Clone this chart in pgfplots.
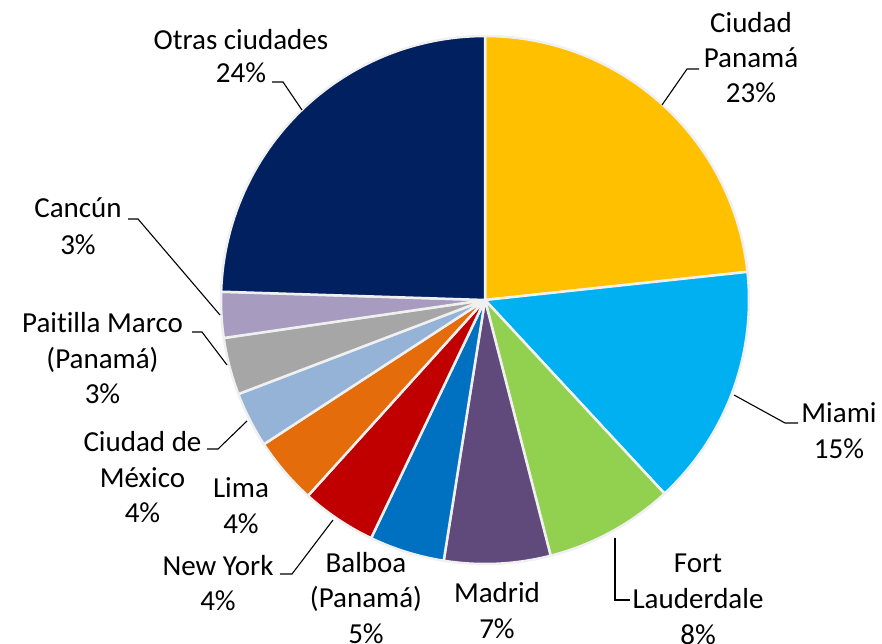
\documentclass[border=0pt]{standalone}
\usepackage{fontspec}
\setmainfont{Carlito}[Ligatures=NoCommon]
\usepackage{pgfplots}
\usepackage{pgfplotstable}
\pgfplotsset{compat=1.18}

\definecolor{cPanama}{HTML}{FFC000}
\definecolor{cMiami}{HTML}{00B0F0}
\definecolor{cFort}{HTML}{92D050}
\definecolor{cMadrid}{HTML}{604A7B}
\definecolor{cBalboa}{HTML}{0070C0}
\definecolor{cNY}{HTML}{C00000}
\definecolor{cLima}{HTML}{E46C0A}
\definecolor{cMexico}{HTML}{95B3D7}
\definecolor{cPaitilla}{HTML}{A6A6A6}
\definecolor{cCancun}{HTML}{A79BBF}
\definecolor{cOtras}{HTML}{002060}
\definecolor{pieedge}{HTML}{F0F0F0}

% share of each city (%), clockwise from 12 o'clock
\pgfplotstableread[col sep=comma]{
city,value,color
CiudadPanama,23.3,cPanama
Miami,14.8,cMiami
FortLauderdale,7.9,cFort
Madrid,6.5,cMadrid
Balboa,4.6,cBalboa
NewYork,4.6,cNY
Lima,4.1,cLima
CiudadMexico,3.4,cMexico
PaitillaMarco,3.5,cPaitilla
Cancun,2.8,cCancun
Otras,24.5,cOtras
}\piedata

\begin{document}
\begin{tikzpicture}[
  lbl/.style={anchor=base, inner sep=0pt, font=\fontsize{29}{35}\selectfont},
  lead/.style={black, line width=1.1pt}]
\begin{scope}
\clip (0,0) rectangle (882pt,644pt);
\begin{axis}[
  at={(0,0)}, anchor=south west,
  scale only axis, width=882pt, height=644pt,
  xmin=0, xmax=882, ymin=0, ymax=644, y dir=reverse,
  hide axis, clip=false,
]
\pgfmathsetmacro\cum{0}
\pgfplotsforeachungrouped \i in {0,...,10}{
  \pgfplotstablegetelem{\i}{value}\of\piedata \let\sliceval\pgfplotsretval
  \pgfplotstablegetelem{\i}{color}\of\piedata \let\slicecol\pgfplotsretval
  \pgfmathsetmacro\aend{90-3.6*\cum}
  \pgfmathsetmacro\cum{\cum+\sliceval}
  \pgfmathsetmacro\astart{90-3.6*\cum}
  \edef\slice{\noexpand\addplot[fill=\slicecol, draw=pieedge, line width=2.5pt,
    line join=round, domain=\astart:\aend, samples=60]
    ({485+264*cos(x)},{300-264*sin(x)}) -- (485,300) -- cycle;}
  \slice
}

% leader lines
\draw[lead] (272,82) -- (283,82) -- (302,110);
\draw[lead] (699,69) -- (687,69) -- (662,105);
\draw[lead] (798,423) -- (785,423) -- (734,395);
\draw[lead] (630,600) -- (615,600) -- (615,538);
\draw[lead] (280,574) -- (292,574) -- (333,520);
\draw[lead] (207,449) -- (218,449) -- (247,421);
\draw[lead] (192,332) -- (202,332) -- (227,365);
\draw[lead] (128,219) -- (138,219) -- (220,315);

% labels
\node[lbl] at (241,50) {Otras ciudades};
\node[lbl] at (241,83) {24\%};
\node[lbl] at (751,33) {Ciudad};
\node[lbl] at (751,68) {Panamá};
\node[lbl] at (751,103) {23\%};
\node[lbl] at (839,422) {Miami};
\node[lbl] at (839,458) {15\%};
\node[lbl] at (698,572) {Fort};
\node[lbl] at (698,608) {Lauderdale};
\node[lbl] at (698,644) {8\%};
\node[lbl] at (497,602) {Madrid};
\node[lbl] at (497,638) {7\%};
\node[lbl] at (366,572) {Balboa};
\node[lbl] at (366,607) {(Panamá)};
\node[lbl] at (366,643) {5\%};
\node[lbl] at (218,575) {New York};
\node[lbl] at (218,610) {4\%};
\node[lbl] at (241,497) {Lima};
\node[lbl] at (241,533) {4\%};
\node[lbl] at (142.5,451) {Ciudad de};
\node[lbl] at (142.5,487) {México};
\node[lbl] at (142.5,522) {4\%};
\node[lbl] at (102.5,332) {Paitilla Marco};
\node[lbl] at (102.5,368) {(Panamá)};
\node[lbl] at (102.5,403) {3\%};
\node[lbl] at (78,218) {Cancún};
\node[lbl] at (78,254) {3\%};
\end{axis}
\end{scope}
\pgfresetboundingbox
\useasboundingbox (0,0) rectangle (882pt,644pt);
\end{tikzpicture}
\end{document}
